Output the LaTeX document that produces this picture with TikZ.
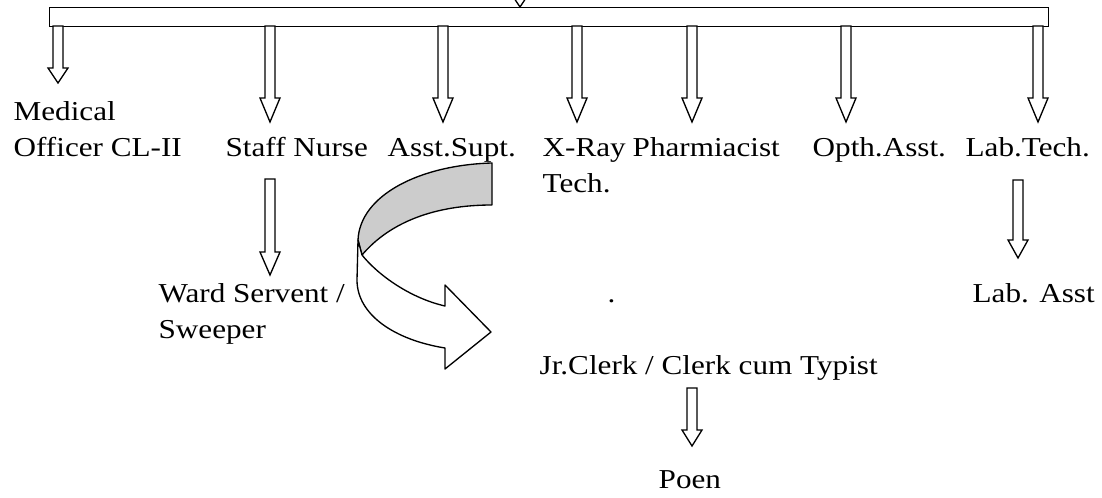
\documentclass[tikz,border=0pt]{standalone}
\usepackage{fontspec}
\setmainfont[FakeStretch=1.14]{Liberation Serif}
\usetikzlibrary{calc}

% hollow block arrow: [head length]{from}{tip}
\newcommand{\hollowarrow}[3][18pt]{%
  \draw[hollow] let \p1=(#2), \p2=(#3) in
    (\x2-3.75pt,\y1) -- (\x2-3.75pt,\y2+#1) -- (\x2-7.5pt,\y2+#1) -- (\x2,\y2)
    -- (\x2+7.5pt,\y2+#1) -- (\x2+3.75pt,\y2+#1) -- (\x2+3.75pt,\y1) -- cycle;}

\begin{document}
\begin{tikzpicture}[x=0.75pt, y=-0.75pt, line width=1pt,
  lbl/.style = {anchor=base west, inner sep=0pt, align=left, font=\fontsize{20.5}{27}\selectfont},
  hollow/.style = {draw, fill=white, line join=miter},
  ribbon/.style = {draw, line join=round}]
  \clip (0,0) rectangle (1102,498);

  \node[draw, fill=white, inner sep=0pt, anchor=north west, minimum width=749.25pt, minimum height=14.25pt] (bar) at (49,7) {};

  \node[lbl] (med) at (13,157) {Medical\\Officer CL-II};
  \node[lbl] (nurse) at (225,157) {Staff Nurse};
  \node[lbl] (supt) at (387,157) {Asst.Supt.};
  \node[lbl] (xray) at (542,193) {X-Ray\\Tech.};
  \node[lbl] (pharm) at (632,157) {Pharmiacist};
  \node[lbl] (opth) at (812,157) {Opth.Asst.};
  \node[lbl] (labtech) at (965,157) {Lab.Tech.};
  \node[lbl] (ward) at (158,339) {Ward Servent /\\Sweeper};
  \node[lbl] (dot) at (607,303) {.};
  \node[lbl] (labasst) at (972,303) {Lab. Asst};
  \node[lbl] (clerk) at (539,375) {Jr.Clerk / Clerk cum Typist};
  \node[lbl] (poen) at (658,488) {Poen};

  % arrow ends
  \coordinate (top-out) at (520,-40);
  \coordinate (top-in) at (520,7);
  \coordinate (med-out) at (58,26);
  \coordinate (med-in) at (58,83);
  \foreach \k/\x in {nurse/270, supt/443, xray/577, pharm/692, opth/846, labtech/1038} {
    \coordinate (\k-out) at (\x,26);
    \coordinate (\k-in) at (\x,122);
  }
  \coordinate (ward-out) at (270,179);
  \coordinate (ward-in) at (270,275);
  \coordinate (labasst-out) at (1018,180);
  \coordinate (labasst-in) at (1018,258);
  \coordinate (poen-out) at (692,388);
  \coordinate (poen-in) at (692,446);

  \hollowarrow[11.25pt]{top-out}{top-in}
  \hollowarrow[11.25pt]{med-out}{med-in}
  \foreach \k in {nurse, supt, xray, pharm, opth, labtech}
    \hollowarrow{\k-out}{\k-in};
  \hollowarrow[17.25pt]{ward-out}{ward-in}
  \hollowarrow[13.5pt]{labasst-out}{labasst-in}
  \hollowarrow[12pt]{poen-out}{poen-in}

  % curved arrow
  \draw[ribbon, fill=black!20] (492,163) .. controls (420,165) and (360,195) .. (358,240)
    -- (362,255) .. controls (390,222) and (435,205) .. (492,205) -- cycle;
  \draw[ribbon, fill=white] (362,255) .. controls (378,275) and (410,298) .. (445,306)
    -- (445,285) -- (491,332) -- (445,369) -- (445,348)
    .. controls (395,340) and (357,315) .. (357,280) -- (358,240) -- cycle;
\end{tikzpicture}
\end{document}
